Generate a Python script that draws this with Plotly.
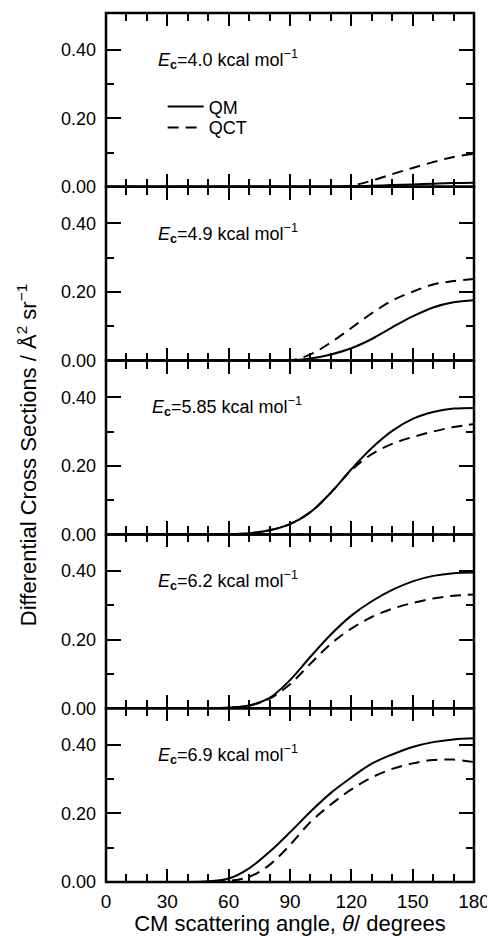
import plotly.graph_objects as go
from plotly.subplots import make_subplots

# ---- data ----
angles = [0, 10, 20, 30, 40, 50, 60, 70, 80, 90, 100, 110, 120, 130, 140, 150, 160, 170, 180]

energies = ["4.0", "4.9", "5.85", "6.2", "6.9"]

qm_40 = [0, 0, 0, 0, 0, 0, 0, 0, 0, 0, 0, 0.0, 0.001, 0.003, 0.005, 0.007, 0.009, 0.011, 0.012]
qct_40 = [0, 0, 0, 0, 0, 0, 0, 0, 0, 0, 0, 0.0, 0.003, 0.018, 0.037, 0.055, 0.072, 0.087, 0.096]

qm_49 = [0, 0, 0, 0, 0, 0, 0, 0, 0, 0.0, 0.006, 0.018, 0.036, 0.063, 0.097, 0.129, 0.155, 0.170, 0.176]
qct_49 = [0, 0, 0, 0, 0, 0, 0, 0, 0, 0.0, 0.018, 0.053, 0.095, 0.138, 0.175, 0.201, 0.222, 0.232, 0.238]

qm_585 = [0, 0, 0, 0, 0, 0, 0.0, 0.003, 0.012, 0.030, 0.065, 0.122, 0.190, 0.252, 0.302, 0.337, 0.357, 0.367, 0.369]
qct_585 = [0, 0, 0, 0, 0, 0, 0.0, 0.003, 0.012, 0.030, 0.065, 0.122, 0.187, 0.234, 0.264, 0.284, 0.300, 0.313, 0.322]

qm_62 = [0, 0, 0, 0, 0, 0.0, 0.002, 0.008, 0.030, 0.082, 0.150, 0.215, 0.270, 0.312, 0.345, 0.370, 0.386, 0.394, 0.396]
qct_62 = [0, 0, 0, 0, 0, 0.0, 0.001, 0.007, 0.028, 0.070, 0.130, 0.188, 0.232, 0.266, 0.290, 0.307, 0.320, 0.328, 0.332]

qm_69 = [0, 0, 0, 0, 0.0, 0.002, 0.010, 0.040, 0.088, 0.145, 0.205, 0.260, 0.305, 0.345, 0.372, 0.394, 0.408, 0.416, 0.419]
qct_69 = [0, 0, 0, 0, 0, 0.0, 0.003, 0.015, 0.050, 0.108, 0.175, 0.226, 0.270, 0.305, 0.330, 0.346, 0.356, 0.357, 0.350]

qm_series = [qm_40, qm_49, qm_585, qm_62, qm_69]
qct_series = [qct_40, qct_49, qct_585, qct_62, qct_69]

y_minor_ticks = [0.1, 0.3]

FONT = "Liberation Sans, Arial, Helvetica, sans-serif"

fig = make_subplots(rows=5, cols=1, shared_xaxes=True, vertical_spacing=0)

for i in range(5):
    row = i + 1
    fig.add_trace(go.Scatter(
        x=angles, y=qm_series[i], mode="lines", name="QM",
        line=dict(color="black", width=2, shape="spline", smoothing=1.0),
        showlegend=(i == 0), legend="legend"), row=row, col=1)
    fig.add_trace(go.Scatter(
        x=angles, y=qct_series[i], mode="lines", name="QCT",
        line=dict(color="black", width=2, dash="11px,7px", shape="spline", smoothing=1.0),
        showlegend=(i == 0), legend="legend2"), row=row, col=1)

    fig.update_yaxes(
        range=[0, 0.507], tickmode="linear", tick0=0, dtick=0.2, tickformat=".2f",
        ticks="inside", ticklen=15, tickwidth=2, tickcolor="black", mirror="ticks",
        minor=dict(ticks="inside", ticklen=8, tickwidth=2, tickcolor="black",
                   tickmode="array", tickvals=y_minor_ticks),
        showline=False, showgrid=False, zeroline=False, ticklabelstandoff=9,
        tickfont=dict(family=FONT, size=18, color="black"),
        row=row, col=1)
    fig.update_xaxes(
        range=[0, 180], tickmode="linear", tick0=0, dtick=30,
        ticks="inside", ticklen=13, tickwidth=2, tickcolor="black", mirror="ticks",
        minor=dict(ticks="inside", ticklen=8, tickwidth=2, tickcolor="black", dtick=10, tick0=0),
        showline=False, showgrid=False, zeroline=False, ticklabelstandoff=6,
        tickfont=dict(family=FONT, size=19, color="black"),
        row=row, col=1)

    yref = "y" if i == 0 else f"y{row}"
    xref = "x" if i == 0 else f"x{row}"
    # panel frame
    fig.add_shape(type="rect", xref=f"{xref} domain", yref=f"{yref} domain",
                  x0=0, x1=1, y0=0, y1=1, line=dict(color="black", width=2.5),
                  fillcolor="rgba(0,0,0,0)", layer="above")
    fig.add_annotation(
        x=21.5 if i == 2 else 24.5, y=0.372, xref=xref, yref=yref,
        text=f"<i>E</i><sub><b>c</b></sub>={energies[i]} kcal mol<sup>−1</sup>",
        showarrow=False, xanchor="left", yanchor="middle",
        font=dict(family=FONT, size=18, color="black"))

fig.update_xaxes(
    title=dict(text="CM scattering angle, <i>θ</i>/ degrees",
               font=dict(family=FONT, size=22, color="black"), standoff=0),
    row=5, col=1)

fig.add_annotation(
    x=-0.215, y=0.491, xref="paper", yref="paper",
    text="Differential Cross Sections / Å<sup>2</sup> sr<sup>−1</sup>",
    textangle=-90, showarrow=False, xanchor="center", yanchor="middle",
    font=dict(family=FONT, size=22, color="black"))

leg_common = dict(xanchor="left", yanchor="middle", bgcolor="rgba(0,0,0,0)",
                  borderwidth=0, font=dict(family=FONT, size=18, color="black"),
                  itemwidth=36)

fig.update_layout(
    width=487, height=928,
    margin=dict(l=98, r=19, t=5, b=54),
    paper_bgcolor="white", plot_bgcolor="white",
    showlegend=True,
    legend=dict(x=0.154, y=0.892, **leg_common),
    legend2=dict(x=0.154, y=0.868, **leg_common),
)

fig.write_html("out.html")
